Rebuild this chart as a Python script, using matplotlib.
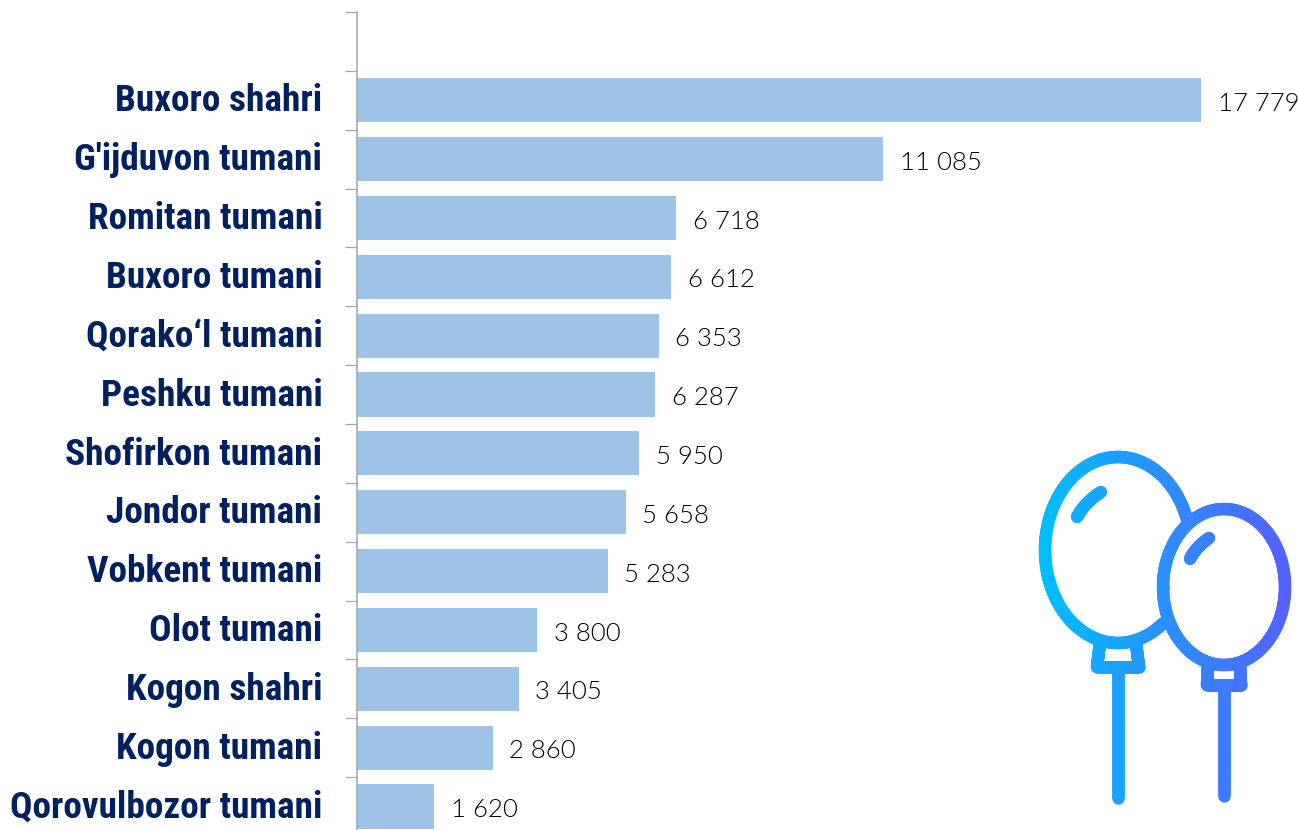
import numpy as np
from matplotlib import pyplot as plt
from matplotlib import font_manager
from matplotlib.collections import LineCollection
from matplotlib.colors import to_rgb
from matplotlib.transforms import ScaledTranslation

categories = ["Buxoro shahri", "G'ijduvon tumani", "Romitan tumani", "Buxoro tumani", "Qorako‘l tumani",
              "Peshku tumani", "Shofirkon tumani", "Jondor tumani", "Vobkent tumani", "Olot tumani",
              "Kogon shahri", "Kogon tumani", "Qorovulbozor tumani"]
values = [17779, 11085, 6718, 6612, 6353, 6287, 5950, 5658, 5283, 3800, 3405, 2860, 1620]

# Lato Light if it is there, plain Lato otherwise
light = [f.fname for f in font_manager.fontManager.ttflist if f.fname.endswith('Lato-Light.ttf')]
value_font = font_manager.FontProperties(fname=light[0], size=18.5) if light else \
    font_manager.FontProperties(family='Lato', size=18.5)

W, H = 1298, 830
fig = plt.figure(figsize=(W / 100, H / 100), dpi=100)

# one empty row on top, last row runs off the bottom of the picture
top, row = 12, 58.85
n_rows = len(categories) + 1
ax_h = row * n_rows
ax = fig.add_axes([357 / W, (H - top - ax_h) / H, (W - 357) / W, ax_h / H])
ax.patch.set_alpha(0)

y = np.arange(len(categories)) + 1
ax.barh(y, values, height=0.75, color='#9DC3E6')
ax.set_ylim(n_rows - 0.5, -0.5)
ax.set_xlim(0, (W - 357) / (844 / 17779))

for s in ['top', 'right', 'bottom']:
    ax.spines[s].set_visible(False)
ax.spines['left'].set_color('#A6A6A6')
ax.spines['left'].set_linewidth(1.1)
ax.set_xticks([])
ax.set_yticks(np.arange(n_rows + 1) - 0.5)
ax.set_yticklabels([])
ax.tick_params(axis='y', which='major', length=8.5, width=0.9, color='#A6A6A6')
ax.set_yticks(y, minor=True)
ax.set_yticklabels(categories, minor=True, fontfamily=['Roboto Condensed', 'Liberation Sans Narrow', 'Roboto'],
                   fontweight='bold', fontsize=26.8, color='#002060')
ax.tick_params(axis='y', which='minor', length=0, pad=25)
shift = ScaledTranslation(0, 2 / 72, fig.dpi_scale_trans)
for lab in ax.get_yticklabels(minor=True):
    lab.set_transform(lab.get_transform() + shift)

for yy, v in zip(y, values):
    ax.annotate(f"{v:,}".replace(",", " "), (v, yy), xytext=(12, -2.6), textcoords='offset points',
                ha='left', va='center', fontproperties=value_font, color='#000000',
                annotation_clip=False)

# balloon icon, in pixel coordinates
icon = fig.add_axes([0, 0, 1, 1])
icon.set_xlim(0, W)
icon.set_ylim(H, 0)
icon.axis('off')


def arc(cx, cy, a, b, t0, t1):
    t = np.radians(np.linspace(t0, t1, 200))
    return np.column_stack([cx + a * np.cos(t), cy + b * np.sin(t)])


def quad(p0, p1, p2):
    t = np.linspace(0, 1, 30)[:, None]
    return (1 - t) ** 2 * np.array(p0) + 2 * t * (1 - t) * np.array(p1) + t ** 2 * np.array(p2)


def dense(pts):
    out = []
    for a, b in zip(pts[:-1], pts[1:]):
        out.append(np.linspace(a, b, 40))
    return np.vstack(out)


strokes = [
    arc(1118, 550, 73, 93, 52, 340),
    arc(1224, 587, 61, 78, 0, 360),
    quad((1077, 517), (1085, 502), (1101, 492)),
    quad((1190, 559), (1196, 547), (1209, 538)),
    dense([(1100, 643), (1097, 667), (1139, 667), (1136, 643)]),
    dense([(1118, 667), (1118, 798)]),
    dense([(1208, 666), (1207, 685), (1241, 685), (1240, 666)]),
    dense([(1224, 685), (1224, 796)]),
]
c0, c1 = np.array(to_rgb('#00BFFF')), np.array(to_rgb('#5560FF'))
for pts in strokes:
    segs = np.stack([pts[:-1], pts[1:]], axis=1)
    f = np.clip((segs[:, :, 0].mean(axis=1) - 1040) / 250, 0, 1)[:, None]
    icon.add_collection(LineCollection(segs, colors=c0 + (c1 - c0) * f, linewidths=9, capstyle='round'))

fig.savefig('out.png', dpi=100)
